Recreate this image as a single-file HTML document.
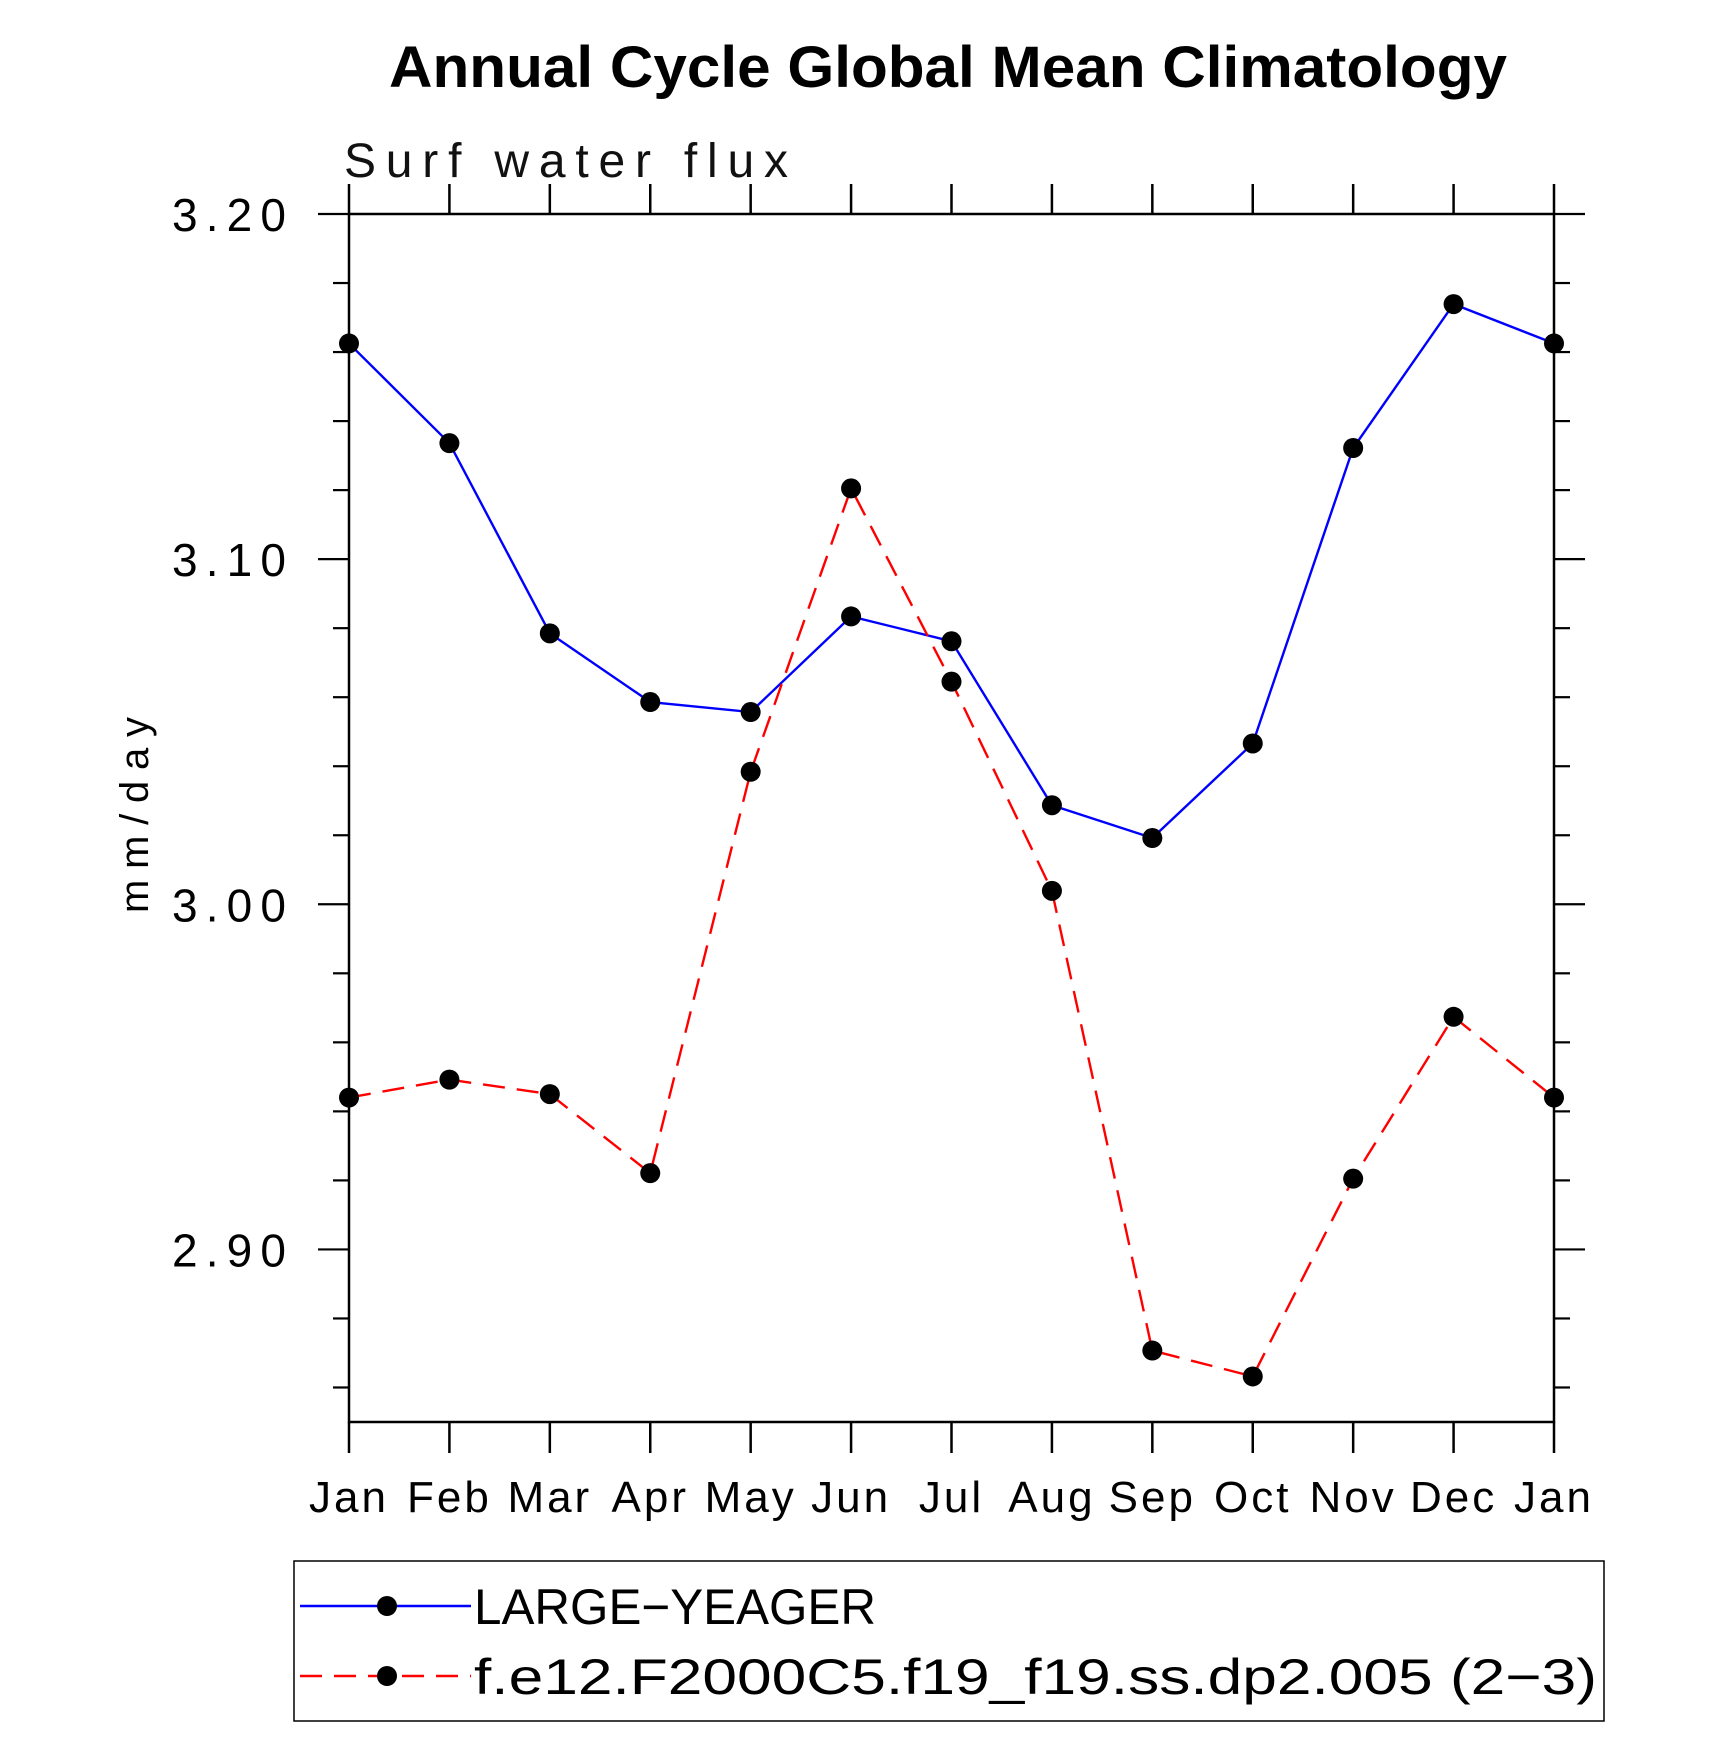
<!DOCTYPE html>
<html><head><meta charset="utf-8"><style>
body{margin:0;background:#fff}
svg text{font-family:"Liberation Sans",sans-serif}
</style></head><body>
<svg id="chart" width="1710" height="1758" viewBox="0 0 1710 1758">
<text x="948" y="87" text-anchor="middle" font-size="58" font-weight="bold" textLength="1118" lengthAdjust="spacingAndGlyphs">Annual Cycle Global Mean Climatology</text>
<text x="344" y="177" font-size="48" font-weight="300" fill="#111" textLength="444" lengthAdjust="spacing">Surf  water  flux</text>
<text transform="translate(148,815) rotate(-90)" text-anchor="middle" font-size="40" textLength="196" lengthAdjust="spacing">mm/day</text>
<g id="axes"></g>
<g id="series"></g>
<g transform="translate(0,4)">
<rect x="294" y="1557" width="1310" height="160" fill="none" stroke="#000" stroke-width="1.5"/>
<line x1="300" y1="1602" x2="471" y2="1602" stroke="#0000ff" stroke-width="2.4"/>
<circle cx="387" cy="1602" r="10" fill="#000"/>
<text x="474" y="1620" font-size="50" textLength="402" lengthAdjust="spacingAndGlyphs">LARGE−YEAGER</text>
<line x1="300" y1="1672" x2="471" y2="1672" stroke="#ff0000" stroke-width="2.4" stroke-dasharray="22,12"/>
<circle cx="387" cy="1672" r="10" fill="#000"/>
<text x="474" y="1690" font-size="50" textLength="1123" lengthAdjust="spacingAndGlyphs">f.e12.F2000C5.f19_f19.ss.dp2.005 (2−3)</text>
</g>
</svg>
<script>
const months=["Jan","Feb","Mar","Apr","May","Jun","Jul","Aug","Sep","Oct","Nov","Dec","Jan"];
const largeYeager=[3.1625,3.1336,3.0785,3.0586,3.0557,3.0834,3.0762,3.0287,3.0192,3.0466,3.1322,3.1739,3.1625];
const fe12=[2.9440,2.9492,2.9450,2.9221,3.0384,3.1205,3.0645,3.0039,2.8707,2.8632,2.9205,2.9674,2.9440];
const yTickLabels=["2.90","3.00","3.10","3.20"];
const yMin=2.85,yMax=3.20;
const L=349,R=1554,T=214,B=1422;
const NS="http://www.w3.org/2000/svg";
const xs=i=>L+(R-L)*i/(months.length-1);
const ys=v=>B-(B-T)*(v-yMin)/(yMax-yMin);
function mk(tag,attrs,parent){const e=document.createElementNS(NS,tag);for(const k in attrs)e.setAttribute(k,attrs[k]);parent.appendChild(e);return e;}
const ax=document.getElementById('axes');
const fr=mk('rect',{x:L,y:T,width:R-L,height:B-T,fill:'none',stroke:'#000','stroke-width':2.5},ax);


for(let i=0;i<months.length;i++){
  const x=xs(i);
  const t1=mk('line',{x1:x,y1:T-30,x2:x,y2:T,stroke:'#000','stroke-width':2.5},ax);
  
  
  const t2=mk('line',{x1:x,y1:B,x2:x,y2:B+31,stroke:'#000','stroke-width':2.5},ax);
  
  
  const tx=mk('text',{x:x,y:1512,'text-anchor':'middle','font-size':44,'letter-spacing':3},ax);
  tx.textContent=months[i];
  
  
}
for(let k=0;k<=17;k++){
  const v=yMin+0.01+k*0.02;
  if(v>yMax+1e-9)break;
  const y=ys(v);
  const major=Math.abs((v*10)-Math.round(v*10))<1e-6;
  const len=major?31:16;
  const a=mk('line',{x1:L-len,y1:y,x2:L,y2:y,stroke:'#000','stroke-width':2.2},ax);
  
  
  const b=mk('line',{x1:R,y1:y,x2:R+len,y2:y,stroke:'#000','stroke-width':2.2},ax);
  
  
}
yTickLabels.forEach(s=>{
  const t=mk('text',{x:172,y:ys(parseFloat(s))+17,'font-size':46,textLength:114,lengthAdjust:'spacing'},ax);
  t.textContent=s;
  
  
});
const sg=document.getElementById('series');
function draw(data,color,dash,name){
  const p=mk('polyline',{points:data.map((v,i)=>xs(i)+','+ys(v)).join(' '),fill:'none',stroke:color,'stroke-width':2.4},sg);
  if(dash)p.setAttribute('stroke-dasharray',dash);
  
  
  data.forEach((v,i)=>{
    const c=mk('circle',{cx:xs(i),cy:ys(v),r:10,fill:'#000'},sg);
    
    
  });
}
draw(largeYeager,'#0000ff',null,'large-yeager');
draw(fe12,'#ff0000','22,12','f-e12');
</script>
</body></html>
